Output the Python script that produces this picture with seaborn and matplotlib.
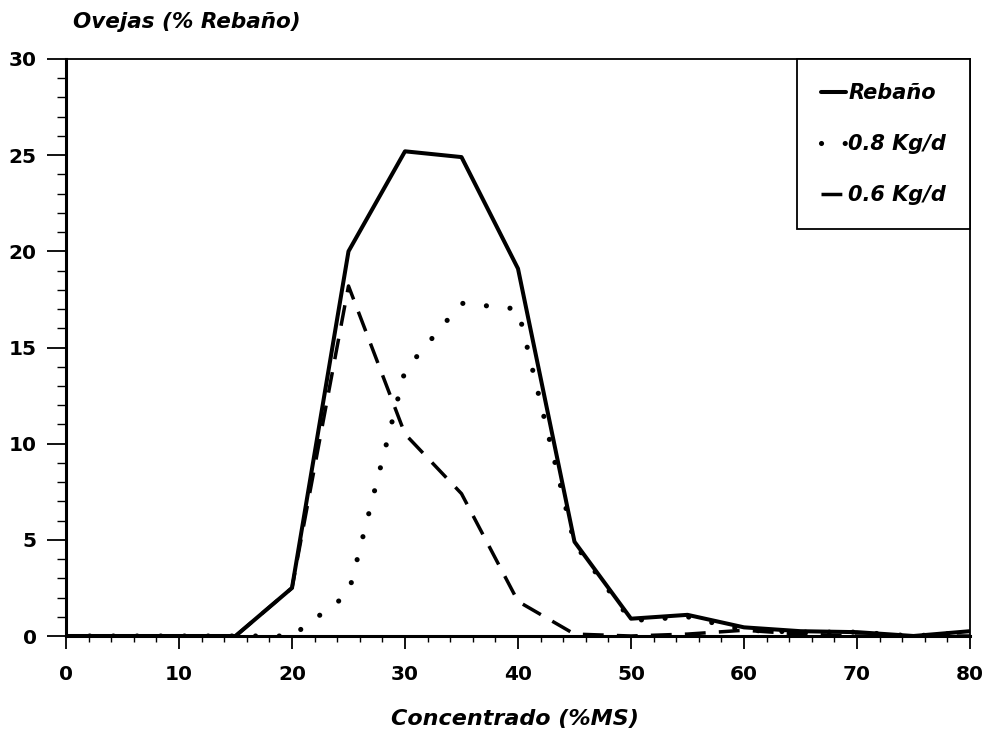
import matplotlib
matplotlib.use("Agg")
import matplotlib.pyplot as plt
from matplotlib.ticker import MultipleLocator
import seaborn as sns
import pandas as pd

x_conc = [0, 5, 10, 15, 20, 25, 30, 35, 40, 45, 50, 55, 60, 65, 70, 75, 80]
rebano = [0, 0, 0, 0, 2.5, 20.0, 25.2, 24.9, 19.1, 4.9, 0.9, 1.1, 0.45, 0.25, 0.2, 0.0, 0.25]
kg08 = [0, 0, 0, 0, 0, 2.2, 13.8, 17.3, 17.0, 4.8, 0.8, 1.0, 0.3, 0.2, 0.2, 0.0, 0.2]
kg06 = [0, 0, 0, 0, 2.5, 18.2, 10.5, 7.4, 1.8, 0.1, 0.0, 0.1, 0.3, 0.1, 0.0, 0.0, 0.0]
labels = ["Rebaño", "0.8 Kg/d", "0.6 Kg/d"]
xticks = [0, 10, 20, 30, 40, 50, 60, 70, 80]
yticks = [0, 5, 10, 15, 20, 25, 30]

sns.set_style("ticks")
plt.rcParams['font.family'] = ['DejaVu Sans']
plt.rcParams.update({'text.color': 'black', 'axes.labelcolor': 'black',
                     'xtick.color': 'black', 'ytick.color': 'black',
                     'axes.edgecolor': 'black'})

df = pd.concat([
    pd.DataFrame({"x": x_conc, "y": rebano, "serie": labels[0]}),
    pd.DataFrame({"x": x_conc, "y": kg08, "serie": labels[1]}),
    pd.DataFrame({"x": x_conc, "y": kg06, "serie": labels[2]}),
])

fig = plt.figure(figsize=(9.89, 7.39), dpi=100)
ax = fig.add_axes([66/989, 1-636/739, 904/989, 577/739])

styles = {
    labels[0]: dict(linestyle='-', linewidth=2.9),
    labels[1]: dict(linestyle=(0, (0.01, 4.6)), linewidth=3.7, dash_capstyle='round'),
    labels[2]: dict(linestyle=(0, (6, 3.8)), linewidth=2.5),
}
for lab in labels:
    sub = df[df["serie"] == lab]
    sns.lineplot(data=sub, x="x", y="y", ax=ax, color="black", label=lab,
                 estimator=None, **styles[lab])

ax.set_xlim(0, 80)
ax.set_ylim(0, 30)
ax.set_xticks(xticks)
ax.set_yticks(yticks)
ax.xaxis.set_minor_locator(MultipleLocator(2))
ax.yaxis.set_minor_locator(MultipleLocator(1))
ax.tick_params(axis='x', which='major', length=9, width=1.3, pad=12, labelsize=14.5, direction='out')
ax.tick_params(axis='x', which='minor', length=4.5, width=1.0, direction='out')
ax.tick_params(axis='y', which='major', length=14, width=1.3, pad=7, labelsize=14.5, direction='out')
ax.tick_params(axis='y', which='minor', length=6.5, width=1.0, direction='out')
for t in ax.get_xticklabels() + ax.get_yticklabels():
    t.set_fontweight('bold')
for s in ['left', 'bottom']:
    ax.spines[s].set_linewidth(2.2)
for s in ['top', 'right']:
    ax.spines[s].set_visible(True)
    ax.spines[s].set_linewidth(1.3)

ax.set_xlabel("")
ax.set_ylabel("")
fig.text(515/989, 1-719/739, "Concentrado (%MS)", ha='center', va='center',
         fontsize=16, fontweight='bold', fontstyle='italic')
fig.text(73/989, 1-22/739, "Ovejas (% Rebaño)", ha='left', va='center',
         fontsize=15.5, fontweight='bold', fontstyle='italic')

leg = ax.legend(loc='upper right', bbox_to_anchor=(1.0, 1.0), borderaxespad=0,
                frameon=True, fancybox=False, edgecolor='black', framealpha=1,
                prop={'weight': 'bold', 'style': 'italic', 'size': 15},
                handlelength=1.2, handletextpad=0.12, labelspacing=1.5,
                borderpad=1.15)
leg.get_frame().set_linewidth(1.3)
for t in leg.get_texts():
    t.set_color('black')

fig.savefig("out.png", dpi=100)
